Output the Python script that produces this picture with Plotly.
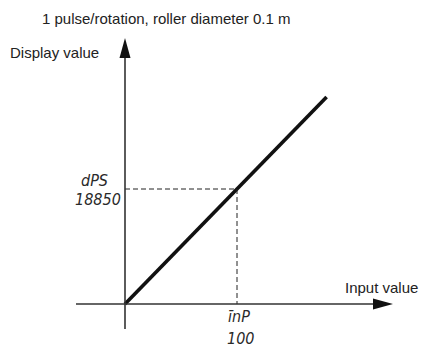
import plotly.graph_objects as go

# Scaling: display value = input value * factor (1 pulse/rotation, roller 0.1 m)
input_values = [0, 180]
display_values = [0, 33930]
set_input = 100
set_display = 18850
set_input_label = "īnP"
set_display_label = "dPS"

W, H = 422, 349
# pixel geometry of the plotting frame
X0_PX, Y0_PX = 125, 304          # origin
PX_PER_X = 112 / 100             # pixels per input unit
PX_PER_Y = 115 / 18850           # pixels per display unit


def dx(px):
    return (px - X0_PX) / PX_PER_X


def dy(py):
    return (Y0_PX - py) / PX_PER_Y


axis_col = "#333333"
fig = go.Figure()

# main characteristic line
fig.add_trace(go.Scatter(x=input_values, y=display_values, mode="lines",
                         line=dict(color="#111111", width=3.6),
                         hoverinfo="skip", showlegend=False))

# dashed guides to the set point
fig.add_trace(go.Scatter(x=[0, set_input, set_input], y=[set_display, set_display, 0],
                         mode="lines",
                         line=dict(color="#222222", width=1, dash="5px,3px"),
                         hoverinfo="skip", showlegend=False))

shapes = [
    # y axis
    dict(type="line", x0=0, x1=0, y0=dy(329), y1=dy(56), xref="x", yref="y",
         line=dict(color=axis_col, width=1.6)),
    # x axis
    dict(type="line", x0=dx(76), x1=dx(374), y0=0, y1=0, xref="x", yref="y",
         line=dict(color=axis_col, width=1.6)),
    # y arrowhead
    dict(type="path", xref="x", yref="y",
         path=f"M {dx(125)},{dy(38)} L {dx(130.5)},{dy(58)} L {dx(119.5)},{dy(58)} Z",
         fillcolor="#111111", line=dict(width=0)),
    # x arrowhead
    dict(type="path", xref="x", yref="y",
         path=f"M {dx(393)},{dy(304)} L {dx(373)},{dy(298.5)} L {dx(373)},{dy(309.5)} Z",
         fillcolor="#111111", line=dict(width=0)),
]

text_font = dict(family="Liberation Sans, Arial, sans-serif", size=15, color="#222222")
seg_font = dict(family="DejaVu Sans Condensed, sans-serif", size=16, color="#2a2a2a")

annotations = [
    dict(x=dx(40), y=dy(18), text="1 pulse/rotation, roller diameter 0.1 m",
         xanchor="left", yanchor="middle", showarrow=False, font=text_font),
    dict(x=dx(8), y=dy(52), text="Display value",
         xanchor="left", yanchor="middle", showarrow=False, font=text_font),
    dict(x=dx(343), y=dy(287), text="Input value",
         xanchor="left", yanchor="middle", showarrow=False, font=text_font),
    dict(x=dx(94), y=dy(180), text=f"<i>{set_display_label}</i>",
         xanchor="center", yanchor="middle", showarrow=False, font=seg_font, borderpad=0),
    dict(x=dx(98), y=dy(199.5), text=f"<i>{set_display:d}</i>",
         xanchor="center", yanchor="middle", showarrow=False, font=seg_font, borderpad=0),
    dict(x=dx(238.5), y=dy(316), text=f"<i>{set_input_label}</i>",
         xanchor="center", yanchor="middle", showarrow=False, font=seg_font, borderpad=0),
    dict(x=dx(240), y=dy(338.5), text=f"<i>{set_input:d}</i>",
         xanchor="center", yanchor="middle", showarrow=False, font=seg_font, borderpad=0),
]

fig.update_layout(
    width=W, height=H,
    margin=dict(l=0, r=0, t=0, b=0),
    paper_bgcolor="white", plot_bgcolor="white",
    xaxis=dict(range=[dx(0), dx(W)], visible=False, fixedrange=True),
    yaxis=dict(range=[dy(H), dy(0)], visible=False, fixedrange=True),
    shapes=shapes, annotations=annotations,
    showlegend=False,
)

fig.write_html("out.html")
